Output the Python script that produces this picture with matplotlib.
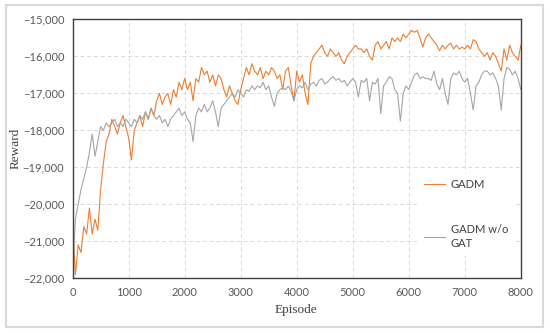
import matplotlib.pyplot as plt
from matplotlib.patches import Rectangle

# episodes sampled every 50
episodes = list(range(0, 8001, 50))

gadm = [
    -20.5, -21.9, -21.1, -21.3, -20.6, -20.8, -20.1, -20.8, -20.4, -20.7,
    -19.6, -18.9, -18.3, -18.1, -17.7, -17.9, -18.1, -17.8, -17.6, -17.9,
    -18.2, -18.8, -18.0, -17.8, -17.6, -17.9, -17.5, -17.7, -17.4, -17.6,
    -17.2, -17.0, -17.3, -17.1, -17.0, -17.3, -16.9, -17.1, -16.7, -16.9,
    -16.6, -16.9, -16.7, -17.2, -16.6, -16.7, -16.3, -16.5, -16.4, -16.7,
    -16.5, -16.8, -16.5, -16.6, -16.9, -17.1, -16.8, -17.0, -17.2, -17.3,
    -16.9, -16.6, -16.3, -16.5, -16.2, -16.4, -16.5, -16.3, -16.6, -16.4,
    -16.5, -16.3, -16.4, -16.6, -16.5, -16.9, -16.4, -16.3, -16.8, -17.2,
    -16.4, -16.7, -16.5, -17.0, -17.3, -16.2, -16.0, -15.9, -15.8, -15.7,
    -15.9, -16.0, -15.8, -15.9, -16.0, -15.9, -16.1, -16.2, -16.0, -15.9,
    -15.8, -15.7, -15.8, -15.8, -15.9, -15.8, -16.0, -16.1, -15.7, -15.6,
    -15.8, -15.7, -15.6, -15.8, -15.5, -15.6, -15.5, -15.6, -15.4, -15.5,
    -15.4, -15.3, -15.35, -15.3, -15.5, -15.75, -15.5, -15.4, -15.5, -15.6,
    -15.7, -15.85, -15.7, -15.8, -15.7, -15.65, -15.8, -15.7, -15.8, -15.75,
    -15.8, -15.7, -15.8, -15.55, -15.6, -15.8, -15.9, -16.0, -15.9, -16.1,
    -15.9, -16.0, -16.2, -16.4, -15.8, -16.1, -15.7, -15.9, -16.0, -16.1,
    -15.7,
]

gadm_wo_gat = [
    -21.8, -20.4, -20.0, -19.6, -19.3, -19.0, -18.6, -18.1, -18.7, -18.3,
    -17.9, -18.0, -17.8, -17.9, -17.8, -17.7, -17.9, -17.8, -17.9, -17.7,
    -17.8, -17.9, -17.7, -17.8, -17.6, -17.7, -17.5, -17.7, -17.4, -17.6,
    -17.7, -17.6, -17.8, -17.7, -17.9, -17.7, -17.6, -17.5, -17.4, -17.6,
    -17.5, -17.7, -17.8, -18.3, -17.6, -17.4, -17.5, -17.3, -17.5, -17.4,
    -17.2, -17.5, -17.9, -17.4, -17.3, -17.2, -17.1, -17.0, -17.1, -16.9,
    -17.0, -17.1, -16.9, -16.95, -16.8, -16.9, -16.8, -16.85, -16.7, -16.9,
    -16.8, -17.1, -17.35, -17.0, -16.9, -16.85, -16.9, -16.8, -16.95, -17.2,
    -16.9, -16.8, -16.85, -16.7, -16.9, -16.75, -16.7, -16.8, -16.65, -16.6,
    -16.75, -16.7, -16.6, -16.55, -16.65, -16.6, -16.7, -16.65, -16.8, -16.7,
    -16.6, -16.7, -17.1, -16.65, -16.7, -16.6, -17.2, -16.7, -16.75, -16.6,
    -17.55, -16.8, -16.7, -16.55, -16.6, -16.9, -17.0, -17.75, -17.0, -16.8,
    -16.9, -16.7, -16.5, -16.45, -16.6, -16.55, -16.6, -16.6, -16.65, -16.4,
    -16.75, -16.9, -16.6, -17.0, -17.3, -16.6, -16.45, -16.5, -16.4, -16.6,
    -16.7, -16.6, -17.0, -17.45, -16.8, -16.7, -16.5, -16.4, -16.4, -16.5,
    -16.45, -16.6, -16.8, -17.45, -16.6, -16.3, -16.35, -16.5, -16.4, -16.6,
    -16.9,
]

y_ticks = list(range(-22000, -14999, 1000))
x_ticks = list(range(0, 8001, 1000))

fig = plt.figure(figsize=(5.5, 3.33), dpi=100)
ax = fig.add_axes([0.132, 0.164, 0.815, 0.778])

# light frame round the whole picture
fig.patches.append(Rectangle((0.011, 0.018), 0.976, 0.966, transform=fig.transFigure,
                             fill=False, edgecolor="#d9d9d9", linewidth=1.5))

ax.plot(episodes, [v * 1000 for v in gadm], color="#ED7D31", lw=0.8, label="GADM")
ax.plot(episodes, [v * 1000 for v in gadm_wo_gat], color="#A5A5A5", lw=0.8,
        label="GADM w/o\nGAT")

ax.set_xlim(0, 8000)
ax.set_ylim(-22000, -15000)
ax.set_xticks(x_ticks)
ax.set_yticks(y_ticks)
ax.set_yticklabels([f"{v:,}".replace("-", "\u2212") for v in y_ticks])
ax.grid(True, color="#d9d9d9", linestyle=(0, (4, 3)), lw=0.7)
ax.set_axisbelow(True)
ax.tick_params(length=0, labelsize=8, labelcolor="#595959", pad=6)
for lab in ax.get_xticklabels() + ax.get_yticklabels():
    lab.set_family("Lato")
for s in ax.spines.values():
    s.set_color("#404040")
    s.set_linewidth(1.0)

ax.set_xlabel("Episode", family="Liberation Serif", fontsize=9.5, color="#404040")
ax.set_ylabel("Reward", family="Liberation Serif", fontsize=9.5, color="#404040")
ax.xaxis.set_label_coords(0.498, -0.1)
ax.yaxis.set_label_coords(-0.113, 0.5)

leg = ax.legend(loc="upper left", bbox_to_anchor=(0.757, 0.43), frameon=True,
                facecolor="white", edgecolor="none", framealpha=1,
                prop={"family": "Lato", "size": 8}, labelspacing=3.0,
                handlelength=1.9, handletextpad=0.5, borderpad=0.6)
for t in leg.get_texts():
    t.set_color("#404040")
    t.set_linespacing(1.4)
leg.get_frame().set_boxstyle("square", pad=0)

fig.savefig("out.png", dpi=100)
